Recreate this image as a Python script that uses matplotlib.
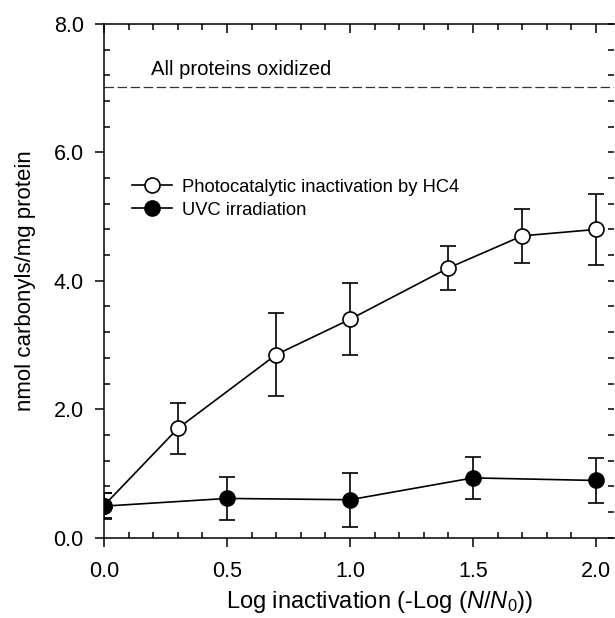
import matplotlib
matplotlib.use("Agg")
import matplotlib.pyplot as plt
from matplotlib.lines import Line2D
from matplotlib.ticker import MultipleLocator, FormatStrFormatter, NullFormatter

plt.rcParams['font.family'] = ['Liberation Sans', 'DejaVu Sans']
plt.rcParams['lines.scale_dashes'] = False
plt.rcParams['mathtext.fontset'] = 'custom'
plt.rcParams['mathtext.it'] = 'Liberation Sans:italic'
plt.rcParams['mathtext.rm'] = 'Liberation Sans'

# photocatalytic inactivation (open circles)
hc4_x = [0.0, 0.3, 0.7, 1.0, 1.4, 1.7, 2.0]
hc4_y = [0.50, 1.70, 2.85, 3.40, 4.20, 4.70, 4.80]
hc4_err = [0.20, 0.40, 0.65, 0.56, 0.34, 0.42, 0.55]

# UVC irradiation (filled circles)
uvc_x = [0.0, 0.5, 1.0, 1.5, 2.0]
uvc_y = [0.49, 0.61, 0.59, 0.93, 0.89]
uvc_err = [0.20, 0.34, 0.42, 0.33, 0.35]

all_oxidized = 7.02

fig = plt.figure(figsize=(6.15, 6.18), dpi=100)
ax = fig.add_axes([104 / 615, 1 - 537.6 / 618, (614 - 104) / 615, (537.6 - 24) / 618])

ax.axhline(all_oxidized, color='#333333', lw=0.9, dashes=(6.8, 2.6))
ax.text(0.192, 7.29, 'All proteins oxidized', fontsize=14.6, va='center', ha='left')

style = dict(color='black', lw=1.2, elinewidth=1.2, capsize=6, capthick=1.2,
             marker='o', ms=10.8, mec='black', mew=1.2)
ax.errorbar(hc4_x, hc4_y, yerr=hc4_err, mfc='white', zorder=3, **style)
ax.errorbar(uvc_x, uvc_y, yerr=uvc_err, mfc='black', zorder=4, **style)

ax.set_xlim(0, 2.073)
ax.set_ylim(0, 8.0)
ax.spines['right'].set_visible(False)
for s in ['left', 'bottom', 'top']:
    ax.spines[s].set_linewidth(1.1)

ax.xaxis.set_major_locator(MultipleLocator(0.5))
ax.xaxis.set_minor_locator(MultipleLocator(0.1))
ax.yaxis.set_major_locator(MultipleLocator(2.0))
ax.yaxis.set_minor_locator(MultipleLocator(0.4))
ax.xaxis.set_major_formatter(FormatStrFormatter('%.1f'))
ax.yaxis.set_major_formatter(FormatStrFormatter('%.1f'))
ax.tick_params(which='major', direction='out', length=6.5, width=1.1, labelsize=15.5, pad=8)
ax.tick_params(axis='x', which='major', pad=10)
ax.tick_params(which='minor', direction='in', length=4.3, width=1.1)

# inward ticks on the top and right edges
top = ax.secondary_xaxis('top')
top.xaxis.set_major_locator(MultipleLocator(0.5))
top.xaxis.set_minor_locator(MultipleLocator(0.1))
top.xaxis.set_major_formatter(NullFormatter())
top.tick_params(which='major', direction='in', length=6.5, width=1.1)
top.tick_params(which='minor', direction='in', length=4.3, width=1.1)
top.spines['top'].set_visible(False)

right = ax.secondary_yaxis('right')
right.yaxis.set_major_locator(MultipleLocator(2.0))
right.yaxis.set_minor_locator(MultipleLocator(0.4))
right.yaxis.set_major_formatter(NullFormatter())
right.tick_params(which='both', direction='in', length=4.3, width=1.1)
right.spines['right'].set_visible(False)

ax.set_xlabel(r'Log inactivation (-Log ($N$/$N_0$))', fontsize=17)
ax.xaxis.set_label_coords(0.541, -0.125, transform=ax.transAxes)
ax.xaxis.label.set_va('center')
ax.set_ylabel('nmol carbonyls/mg protein', fontsize=16, labelpad=13)

handles = [
    Line2D([], [], color='black', lw=1.2, marker='o', ms=10.8, mfc='white', mec='black', mew=1.2),
    Line2D([], [], color='black', lw=1.2, marker='o', ms=10.8, mfc='black', mec='black', mew=1.2),
]
labels = ['Photocatalytic inactivation by HC4', 'UVC irradiation']
ax.legend(handles, labels, loc='upper left', bbox_to_anchor=(0.055, 0.699), frameon=False,
          fontsize=13.2, handlelength=2.2, handletextpad=0.55, labelspacing=0.34,
          borderaxespad=0, borderpad=0)

fig.savefig('out.png', dpi=100)
